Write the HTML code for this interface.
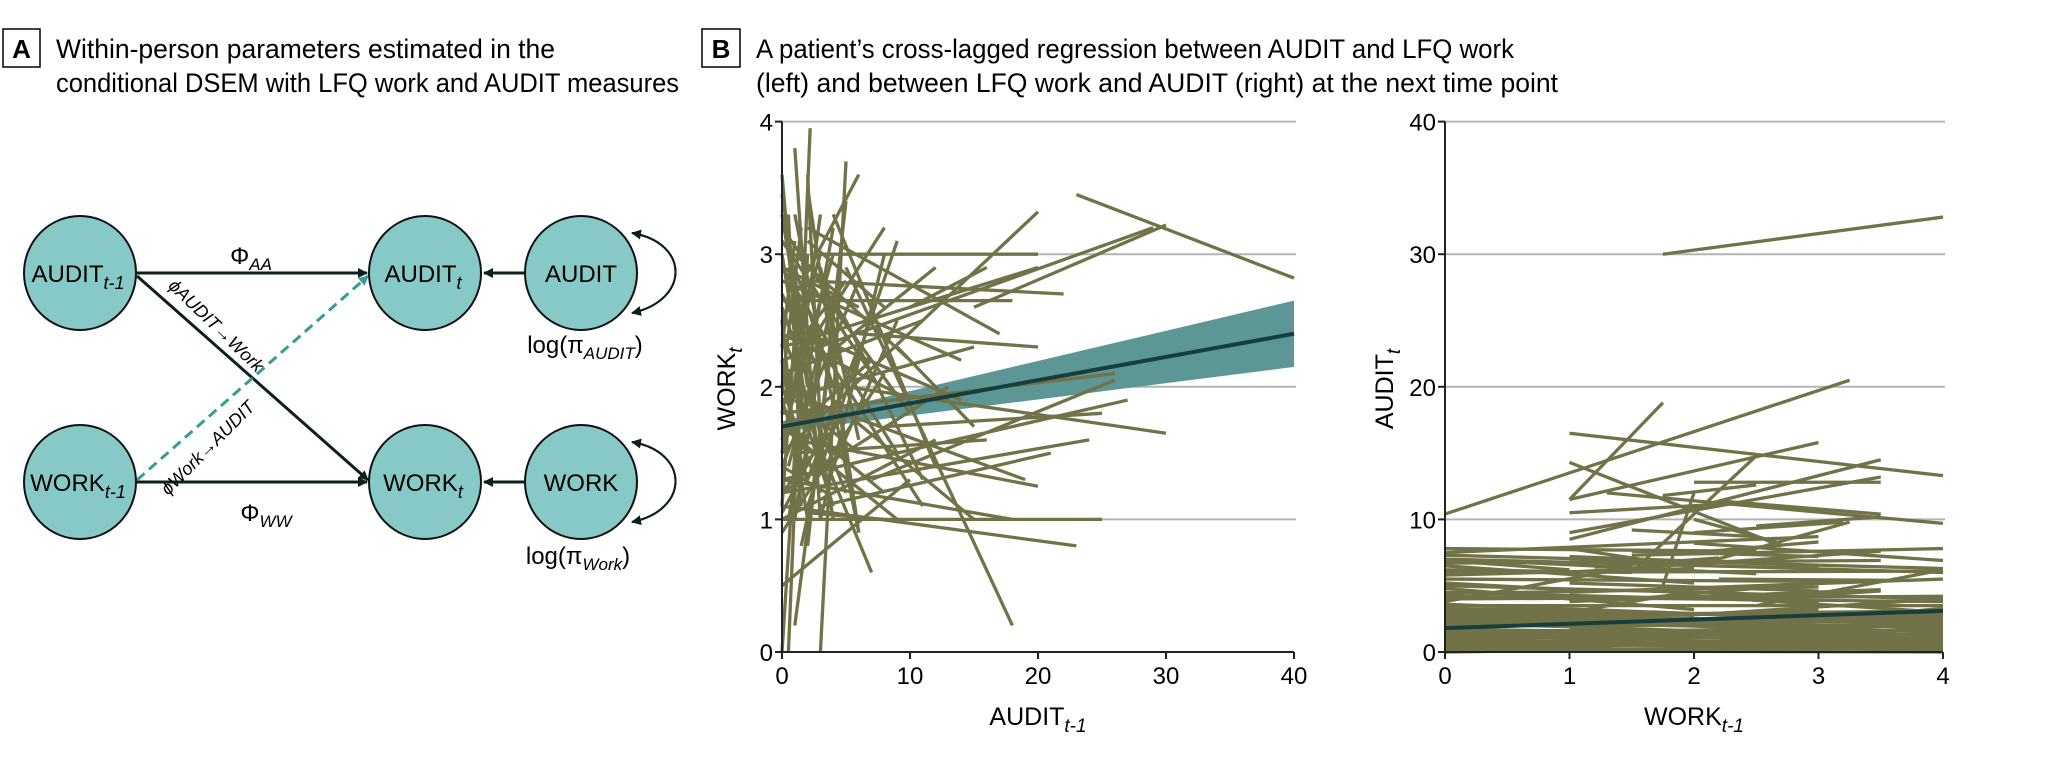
<!DOCTYPE html>
<html><head><meta charset="utf-8"><style>
html,body{margin:0;padding:0;background:#fff;}
svg{display:block;font-family:"Liberation Sans",sans-serif;}
</style></head><body>
<svg id="fig" width="2048" height="763" viewBox="0 0 2048 763">
<defs>
<marker id="ah" markerWidth="10" markerHeight="10" refX="9" refY="5" orient="auto" markerUnits="userSpaceOnUse"><path d="M0,0 L10,5 L0,10 z" fill="#0d1f1f"/></marker>
<marker id="ahT" markerWidth="10" markerHeight="10" refX="9" refY="5" orient="auto" markerUnits="userSpaceOnUse"><path d="M0,0 L10,5 L0,10 z" fill="#3a9a96"/></marker>
</defs>
<g>
<rect x="3" y="29" width="37" height="38" fill="none" stroke="#000" stroke-width="1.5"/>
<text x="21.5" y="58" font-size="26" font-weight="bold" text-anchor="middle">A</text>
<text x="56" y="58" font-size="27" textLength="499" lengthAdjust="spacingAndGlyphs">Within-person parameters estimated in the</text>
<text x="56" y="92" font-size="27" textLength="623" lengthAdjust="spacingAndGlyphs">conditional DSEM with LFQ work and AUDIT measures</text>
</g>
<g>
<rect x="702" y="29" width="38" height="38" fill="none" stroke="#000" stroke-width="1.5"/>
<text x="721" y="58" font-size="26" font-weight="bold" text-anchor="middle">B</text>
<text x="756" y="58" font-size="27" textLength="758" lengthAdjust="spacingAndGlyphs">A patient’s cross-lagged regression between AUDIT and LFQ work</text>
<text x="756" y="92" font-size="27" textLength="802" lengthAdjust="spacingAndGlyphs">(left) and between LFQ work and AUDIT (right) at the next time point</text>
</g>
<g font-size="24">
<line x1="137" y1="273" x2="367" y2="273" stroke="#0d1f1f" stroke-width="3" marker-end="url(#ah)"/>
<line x1="137" y1="482" x2="367" y2="482" stroke="#0d1f1f" stroke-width="3" marker-end="url(#ah)"/>
<line x1="137" y1="276" x2="368" y2="480" stroke="#0d1f1f" stroke-width="3" marker-end="url(#ah)"/>
<line x1="137" y1="480" x2="368" y2="276" stroke="#3a9a96" stroke-width="3" stroke-dasharray="10,6" marker-end="url(#ahT)"/>
<line x1="526" y1="273" x2="484" y2="273" stroke="#0d1f1f" stroke-width="3" marker-end="url(#ah)"/>
<line x1="526" y1="482" x2="484" y2="482" stroke="#0d1f1f" stroke-width="3" marker-end="url(#ah)"/>
<path d="M632,313 C690,300 690,243 632,233" fill="none" stroke="#0d1f1f" stroke-width="2" marker-end="url(#ah)"/>
<path d="M632,233 C690,243 690,300 632,313" fill="none" stroke="#0d1f1f" stroke-width="2" marker-end="url(#ah)"/>
<path d="M632,522 C690,510 690,452 632,442" fill="none" stroke="#0d1f1f" stroke-width="2" marker-end="url(#ah)"/>
<path d="M632,442 C690,452 690,510 632,522" fill="none" stroke="#0d1f1f" stroke-width="2" marker-end="url(#ah)"/>
<g fill="#86c9c6" stroke="#111" stroke-width="2">
<ellipse cx="80" cy="273" rx="56" ry="57"/>
<ellipse cx="425" cy="273" rx="56" ry="57"/>
<ellipse cx="581" cy="273" rx="56" ry="57"/>
<ellipse cx="80" cy="482" rx="56" ry="57"/>
<ellipse cx="425" cy="482" rx="56" ry="57"/>
<ellipse cx="581" cy="482" rx="56" ry="57"/>
</g>
<text x="78" y="282" text-anchor="middle">AUDIT<tspan font-size="18" font-style="italic" dy="7">t-1</tspan></text>
<text x="423" y="282" text-anchor="middle">AUDIT<tspan font-size="18" font-style="italic" dy="7">t</tspan></text>
<text x="581" y="282" text-anchor="middle">AUDIT</text>
<text x="78" y="491" text-anchor="middle">WORK<tspan font-size="18" font-style="italic" dy="7">t-1</tspan></text>
<text x="423" y="491" text-anchor="middle">WORK<tspan font-size="18" font-style="italic" dy="7">t</tspan></text>
<text x="581" y="491" text-anchor="middle">WORK</text>
<text x="251" y="264" text-anchor="middle">Φ<tspan font-size="17" font-style="italic" dy="6">AA</tspan></text>
<text x="266" y="521" text-anchor="middle">Φ<tspan font-size="17" font-style="italic" dy="6">WW</tspan></text>
<text transform="translate(212,330) rotate(44)" text-anchor="middle" font-size="18" font-style="italic">ϕAUDIT→Work</text>
<text transform="translate(212,452) rotate(-45)" text-anchor="middle" font-size="18" font-style="italic">ϕWork→AUDIT</text>
<text x="585" y="353" text-anchor="middle">log(π<tspan font-size="17" font-style="italic" dy="6">AUDIT</tspan><tspan dy="-6">)</tspan></text>
<text x="578" y="564" text-anchor="middle">log(π<tspan font-size="17" font-style="italic" dy="6">Work</tspan><tspan dy="-6">)</tspan></text>
</g>
<g id="leftChart"></g>
<g id="rightChart"></g>
</svg>
<script>
const leftXTicks = [0, 10, 20, 30, 40];
const leftYTicks = [0, 1, 2, 3, 4];
const rightXTicks = [0, 1, 2, 3, 4];
const rightYTicks = [0, 10, 20, 30, 40];
const leftFitX = [0, 40];
const leftFitY = [1.7, 2.4];
const leftBandUpper = [1.74, 2.65];
const leftBandLower = [1.66, 2.15];
const rightFitX = [0, 4];
const rightFitY = [1.8, 3.1];
const leftSegments = [[23,3.45,40,2.82],[0,2.2,29,3.2],[15,2.6,30,3.22],[0,1.5,20,3.32],[3,3.0,20,3.0],[0,2.65,18,2.65],[0,1.0,25,1.0],[0,1.1,23,0.8],[5,2.9,18,0.2],[0,0.5,10,1.3],[0.5,0,2.2,3.95],[3,0,5,3.7],[0,3.45,4,1.0],[0,1.8,26,2.1],[5,2.0,30,1.65],[0,1.3,27,1.9],[7,1.3,26,2.05],[2,2.8,22,2.7],[0,2.3,20,2.9],[1,1.6,20,1.25],[0,1.9,15,2.3],[2,3.2,17,2.4],[0,1.2,13,2.0],[4,3.3,12,1.4],[1,2.6,11,1.1],[0,2.9,9,1.5],[2,1.1,9,3.1],[0,2.0,8,3.2],[1,3.8,3,1.0],[2,3.5,6,0.9],[0,3.1,7,2.1],[3,1.0,8,3.0],[0,1.4,6,2.8],[1,0.2,4,2.4],[0,2.4,5,1.2],[2,0.8,5,3.4],[0,1.7,9,1.0],[3,2.2,12,2.9],[0,2.8,14,2.2],[1,1.5,16,1.6],[0,1.0,12,1.6],[2,1.9,19,1.3],[0,2.5,6,3.6],[4,2.6,10,1.8],[1,2.0,7,0.6],[0,3.2,5,2.5],[2,2.4,14,1.9],[0,1.6,4,3.0],[3,1.6,8,1.2],[1,3.0,10,2.2],[0,2.1,11,2.5],[5,1.8,15,1.0],[2,1.3,6,2.3],[0,0.9,8,2.1],[1,2.9,4,2.0],[0,2.0,3,1.2],[2,2.6,3,3.3],[0,1.5,2,2.6],[1,1.0,3,2.2],[0,3.0,2,1.8],[1,2.3,5,2.8],[3,2.9,6,1.6],[0,1.2,5,1.8],[2,1.7,4,1.1],[0,2.7,3,2.1],[1,1.9,6,1.5],[0,1.6,7,2.2],[4,1.4,9,2.5],[2,3.1,8,2.6],[0,2.4,10,1.9],[6,2.4,20,2.3],[8,1.7,25,1.8],[10,2.6,16,2.9],[0,1.2,24,1.6],[3,1.1,21,1.5],[1,3.3,6,0.9],[0,3.6,2,1.4],[2,3.6,3,1.7],[0,2.6,4,1.5],[1,1.2,2,3.0],[0.5,3.3,1.5,1.3],[0,1.05,3,1.6],[2,1.05,8,1.0],[0,2.0,1.5,3.2],[1.5,0.8,4,1.9],[0,0,1,1.5],[3.5,2.8,5,1.4],[0,2.9,6,2.6],[5,2.5,11,1.3],[0,1.3,18,1.0],[9,2.3,15,1.7],[0,2.2,2,1.0],[1,2.7,3,1.4],[0,1.8,2.5,2.9],[0.5,1.4,3,2.3],[2,2.1,4,3.2],[0,2.5,1.5,1.1],[0,1.1,1,2.4],[0.5,2.9,2,2.0],[1,1.4,2.5,1.9],[0,3.3,1.5,2.4],[0,1.9,2,1.3],[1.5,2.5,3,3.0],[0,2.3,1,3.1],[0.5,1.0,2,1.8],[2.5,2.0,4,2.7],[0,1.4,3.5,1.2],[1,2.2,2,1.5]];
const rightSegments = [[1.75,30,4,32.8],[0,10.4,3.25,20.5],[1,11.5,1.75,18.8],[1,16.5,4,13.3],[1,14.3,2.7,8],[1,11.5,3,15.8],[1,8.5,3.5,14.5],[1,9,3.5,13.2],[1.3,12,4,9.7],[2,12.8,3.5,12.8],[1.5,6,2.5,14.8],[1.75,5,2,12],[2,9,3.2,9.8],[0,7.5,3,8.7],[0,7.3,4,6.3],[0,7.0,3,6.3],[0,6.5,2,5.2],[0,6,4,6.1],[0,5.5,3.5,5.3],[0,5,4,4],[0,4.5,3,3.8],[0,4,4,4.2],[0,3.5,4,3.5],[0,3,4,2.8],[0,2.5,4,2.4],[0,2,4,2],[0,1.5,4,1.6],[0,1,4,1.2],[0,0.5,4,0.7],[0,0.2,4,0.3],[0,1.2,4,0.5],[0,2.2,4,1.0],[0,2.8,4,1.8],[0,3.3,3.5,2.6],[0,0.8,4,2.3],[0,0,4,1.4],[1,1.8,4,0.2],[0,4.8,2,3.2],[1,4.5,4,5.5],[1,6,3.5,7.6],[1.5,7.3,4,7.8],[2,6.5,3.25,9.8],[0,5.8,2,6.3],[1,5.2,3,4.6],[1,3.8,3.5,4.7],[2,4.2,4,3.0],[0.5,6.8,2.5,5.9],[1.5,4.0,3,5.2],[0,3.8,1.5,6.4],[2,2.8,4,4.0],[1,7.2,3,6.5],[2.5,3.5,4,6.2],[0,6.2,1.5,6.0],[1,2.5,3,3.2],[1.2,6.4,2.2,7.1],[2.2,5.5,3.7,5.4],[0,1.8,2,2.6],[2,1.5,4,3.3],[0.5,3.0,3,2.0],[1,0.8,3.5,1.9],[0,0.4,2,1.3],[2,0.6,4,0.1],[3,1.2,4,1.8],[0,6.9,1,6.2],[1,7.8,2,6.4],[1.5,7.6,3,7.2],[2,8.2,4,6.9],[0,5.2,1,4.7],[3,4.3,3.5,4.6],[1,3.0,2,4.6],[2,10,2.7,8.2],[1.75,11.8,2.5,12.6],[2.2,11.4,3.5,10.4],[1,10.5,2.3,11.2],[0,7.8,2.5,7.6],[0,6.7,3.5,6.9],[1,6.8,4,6.0],[0,4.2,4,3.8],[0,2.7,4,3.1],[0,1.3,4,2.0],[0,0.1,4,0.0],[0,0.9,3.5,0.4],[0,1.7,4,1.3],[0,3.6,4,2.2],[0,4.4,3,4.9],[2,7.5,3,8.3],[2.5,9.5,3.5,10.2],[1.5,9.2,2.5,8.7],[0,0.3,4,0.9],[0,0.7,4,0.2],[0,1.1,4,1.7],[0,1.4,4,0.8],[0,1.9,4,2.5],[0,2.4,4,1.5],[0,2.9,4,2.1],[0,0.6,4,1.0],[0,1.6,4,1.1],[0,2.1,4,2.9],[0,3.1,4,2.6],[0,0.0,4,0.5]];

const NS = 'http://www.w3.org/2000/svg';
function mk(parent, tag, attrs){ const e=document.createElementNS(NS,tag); for(const k in attrs) e.setAttribute(k,attrs[k]); parent.appendChild(e); return e; }

function drawChart(g, cfg){
  const X = v => cfg.x0 + (v - cfg.xmin)/(cfg.xmax-cfg.xmin)*(cfg.x1-cfg.x0);
  const Y = v => cfg.y0 - (v - cfg.ymin)/(cfg.ymax-cfg.ymin)*(cfg.y0-cfg.y1);
  cfg.yTicks.forEach(t=>{
    if(t>cfg.ymin){
      const gl = mk(g,'line',{x1:cfg.x0,x2:cfg.x1+2,y1:Y(t),y2:Y(t),stroke:'#b4b4b4','stroke-width':2});
      
      
    }
  });
  if(cfg.band){
    const pts = [[X(cfg.fitX[0]),Y(cfg.band.up[0])],[X(cfg.fitX[1]),Y(cfg.band.up[1])],[X(cfg.fitX[1]),Y(cfg.band.lo[1])],[X(cfg.fitX[0]),Y(cfg.band.lo[0])]];
    const b = mk(g,'polygon',{points:pts.map(p=>p.join(',')).join(' '),fill:'#5c9795'});
    
    
  }
  cfg.segs.forEach(s=>{
    const l = mk(g,'line',{x1:X(s[0]),y1:Y(s[1]),x2:X(s[2]),y2:Y(s[3]),stroke:'#727249','stroke-width':3.3});
    
    
  });
  const f = mk(g,'line',{x1:X(cfg.fitX[0]),y1:Y(cfg.fitY[0]),x2:X(cfg.fitX[1]),y2:Y(cfg.fitY[1]),stroke:'#163e3e','stroke-width':4});
  
  
  const ax = mk(g,'path',{d:`M${cfg.x0},${cfg.y1} L${cfg.x0},${cfg.y0} L${cfg.x1},${cfg.y0}`,fill:'none',stroke:'#222','stroke-width':2});
  
  
  cfg.xTicks.forEach(t=>{
    const tk = mk(g,'line',{x1:X(t),x2:X(t),y1:cfg.y0,y2:cfg.y0+7,stroke:'#222','stroke-width':2});
    
    
    const tl = mk(g,'text',{x:X(t),y:cfg.y0+32,'font-size':24,'text-anchor':'middle'});
    tl.textContent = t;
    
    
  });
  cfg.yTicks.forEach(t=>{
    const tk = mk(g,'line',{x1:cfg.x0-7,x2:cfg.x0,y1:Y(t),y2:Y(t),stroke:'#222','stroke-width':2});
    
    
    const tl = mk(g,'text',{x:cfg.x0-9,y:Y(t)+9,'font-size':24,'text-anchor':'end'});
    tl.textContent = t;
    
    
  });
  const xt = mk(g,'text',{x:(cfg.x0+cfg.x1)/2,y:725,'font-size':25,'text-anchor':'middle'});
  xt.innerHTML = cfg.xTitle + '<tspan font-size="19" font-style="italic" dy="7">' + cfg.xSub + '</tspan>';
  
  
  const yt = mk(g,'text',{transform:`translate(${cfg.yTitleX},389) rotate(-90)`,'font-size':25,'text-anchor':'middle'});
  yt.innerHTML = cfg.yTitle + '<tspan font-size="19" font-style="italic" dy="7">' + cfg.ySub + '</tspan>';
  
  
}
drawChart(document.getElementById('leftChart'),{x0:782,x1:1294,y0:652,y1:121.6,xmin:0,xmax:40,ymin:0,ymax:4,xTicks:leftXTicks,yTicks:leftYTicks,segs:leftSegments,fitX:leftFitX,fitY:leftFitY,band:{up:leftBandUpper,lo:leftBandLower},xTitle:'AUDIT',xSub:'t-1',yTitle:'WORK',ySub:'t',yTitleX:735});
drawChart(document.getElementById('rightChart'),{x0:1445,x1:1943,y0:652,y1:121.6,xmin:0,xmax:4,ymin:0,ymax:40,xTicks:rightXTicks,yTicks:rightYTicks,segs:rightSegments,fitX:rightFitX,fitY:rightFitY,band:null,xTitle:'WORK',xSub:'t-1',yTitle:'AUDIT',ySub:'t',yTitleX:1393});
</script>
</body></html>
